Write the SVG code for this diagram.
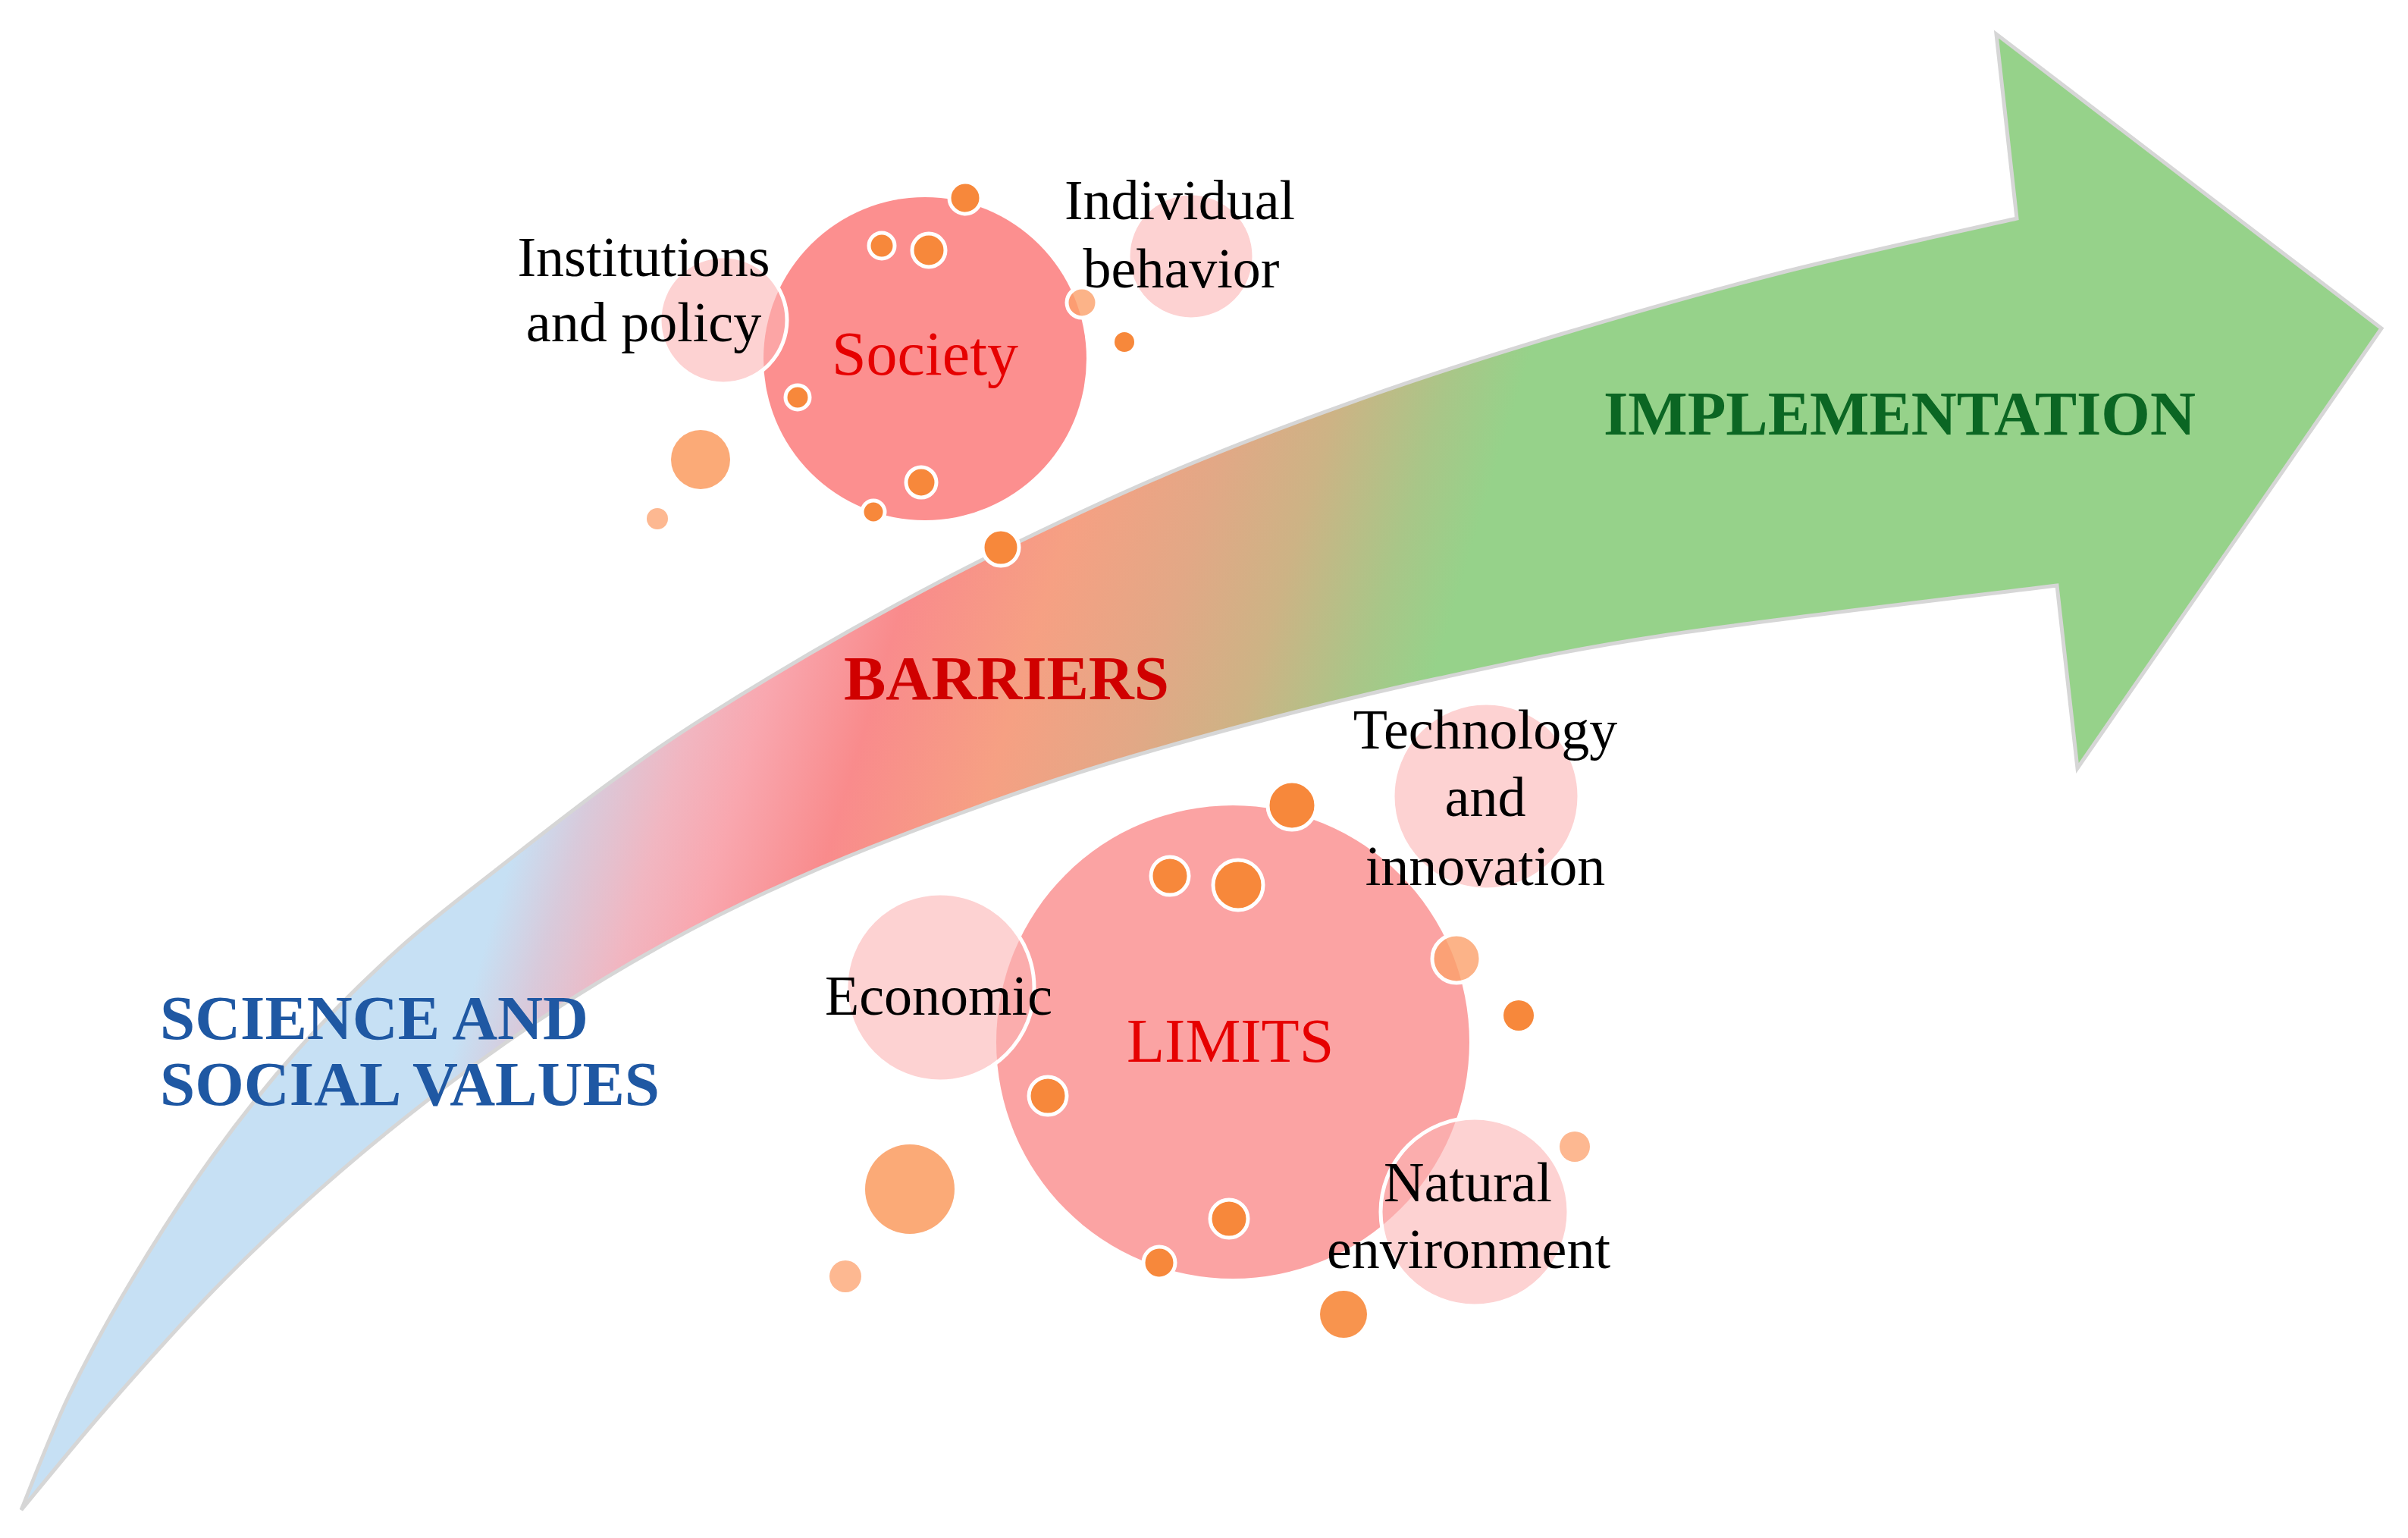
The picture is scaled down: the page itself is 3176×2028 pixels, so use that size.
<svg xmlns="http://www.w3.org/2000/svg" width="3176" height="2028" viewBox="0 0 3176 2028">
<style>
.lbl{font-family:"Liberation Serif","Times New Roman",serif;font-size:74px;fill:#000;text-anchor:middle}
.core{font-family:"Liberation Serif","Times New Roman",serif;font-size:82px;fill:#e60000}
.head{font-family:"Liberation Serif","Times New Roman",serif;font-weight:bold;font-size:83px}
.big1{fill:#fc8f8f}
.big2{fill:#fba3a3}
.sat{fill:#fcb4b4;fill-opacity:0.6;stroke:#fff;stroke-width:5}
.dot{fill:#f7883b;stroke:#fff;stroke-width:5}
.dotn{fill:#f7883b}
.dotl{fill:#fbaa77}
.dotp{fill:#fdb891}
.dots{fill:#fba06a;fill-opacity:0.8;stroke:#fff;stroke-width:5}
</style>
<defs>
<linearGradient id="flow" gradientUnits="userSpaceOnUse" x1="0" y1="0" x2="3000" y2="900">
<stop offset="0" stop-color="#c6e0f4"/>
<stop offset="0.31" stop-color="#c6e0f4"/>
<stop offset="0.334" stop-color="#d8cadb"/>
<stop offset="0.366" stop-color="#f1b6c1"/>
<stop offset="0.393" stop-color="#f9a7af"/>
<stop offset="0.437" stop-color="#f98b8c"/>
<stop offset="0.494" stop-color="#f6a083"/>
<stop offset="0.547" stop-color="#e2a886"/>
<stop offset="0.588" stop-color="#cdb385"/>
<stop offset="0.63" stop-color="#a9c688"/>
<stop offset="0.66" stop-color="#96d28a"/>
<stop offset="1" stop-color="#96d28a"/>
</linearGradient>
</defs>
<rect width="3176" height="2028" fill="#fff"/>
<g id="arrow-flow">
<path d="M 28 1991 C 38.5 1965.8 66.5 1890.8 91 1840 C 115.5 1789.2 143.3 1738.7 175 1686 C 206.7 1633.3 244.7 1574.3 281 1524 C 317.3 1473.7 352.2 1429.5 393 1384 C 433.8 1338.5 480.5 1292 526 1251 C 571.5 1210 619.2 1174.8 666 1138 C 712.8 1101.2 762.8 1062.2 807 1030 C 851.2 997.8 878.8 978 931 945 C 983.2 912 1055.2 868.5 1120 832 C 1184.8 795.5 1246.3 762.2 1320 726 C 1393.7 689.8 1480 649.3 1562 615 C 1644 580.7 1728.8 549.2 1812 520 C 1895.2 490.8 1970.5 467 2061 440 C 2151.5 413 2255.2 383.3 2355 358 C 2454.8 332.7 2609.2 299.7 2660 288 L 2633 45 L 3141 433 L 2740 1013 L 2713 772 C 2627.5 782.8 2336.3 816.5 2200 837 C 2063.7 857.5 1987.3 875.3 1895 895 C 1802.7 914.7 1729 933 1646 955 C 1563 977 1479.8 1000 1397 1027 C 1314.2 1054 1218.2 1089.8 1149 1117 C 1079.8 1144.2 1033.2 1165.5 982 1190 C 930.8 1214.5 888.7 1237.2 842 1264 C 795.3 1290.8 748.8 1319.5 702 1351 C 655.2 1382.5 607.8 1416.7 561 1453 C 514.2 1489.3 467.7 1527.5 421 1569 C 374.3 1610.5 327.8 1654 281 1702 C 234.2 1750 182.2 1808.8 140 1857 C 97.8 1905.2 46.7 1968.7 28 1991 Z" fill="url(#flow)" stroke="#d6d6d6" stroke-width="5" stroke-linejoin="miter"/>
</g>
<g id="stage-labels">
<text class="head" x="2115" y="573" fill="#0b6623">IMPLEMENTATION</text>
<text class="head" x="1113" y="922" fill="#d00000">BARRIERS</text>
<text class="head" x="211" y="1370" fill="#1f58a3">SCIENCE AND</text>
<text class="head" x="211" y="1457" fill="#1f58a3">SOCIAL VALUES</text>
</g>
<g id="society">
<circle class="big1" cx="1220" cy="473" r="213"/>
<g id="institutions-and-policy">
<circle class="sat" cx="954" cy="422" r="84"/>
</g>
<g id="individual-behavior">
<circle class="sat" cx="1571" cy="338" r="83"/>
</g>
<circle class="dot" cx="1273" cy="261" r="21"/>
<circle class="dot" cx="1163" cy="324" r="17"/>
<circle class="dot" cx="1225" cy="330" r="22"/>
<circle class="dots" cx="1427" cy="399" r="20"/>
<circle class="dotn" cx="1483" cy="451" r="13"/>
<circle class="dot" cx="1052" cy="524" r="16"/>
<circle class="dotl" cx="924" cy="606" r="39"/>
<circle class="dotp" cx="867" cy="684" r="14"/>
<circle class="dot" cx="1215" cy="636" r="20"/>
<circle class="dot" cx="1152" cy="675" r="15"/>
<circle class="dot" cx="1320" cy="722" r="24"/>
<text class="core" x="1097" y="494">Society</text>
<text class="lbl" x="849" y="364">Institutions</text>
<text class="lbl" x="849" y="450">and policy</text>
<text class="lbl" x="1556" y="289">Individual</text>
<text class="lbl" x="1558" y="379">behavior</text>
</g>
<g id="limits">
<circle class="big2" cx="1626" cy="1374" r="312"/>
<g id="economic">
<circle class="sat" cx="1240" cy="1302" r="124"/>
</g>
<g id="technology-and-innovation">
<circle class="sat" cx="1960" cy="1050" r="123"/>
</g>
<g id="natural-environment">
<circle class="sat" cx="1945" cy="1598" r="124"/>
</g>
<circle class="dot" cx="1704" cy="1062" r="32"/>
<circle class="dot" cx="1543" cy="1155" r="25"/>
<circle class="dot" cx="1633" cy="1167" r="33"/>
<circle class="dots" cx="1921" cy="1264" r="32"/>
<circle class="dotn" cx="2003" cy="1339" r="20"/>
<circle class="dot" cx="1382" cy="1445" r="25"/>
<circle class="dotl" cx="1200" cy="1568" r="59"/>
<circle class="dotp" cx="1115" cy="1683" r="21"/>
<circle class="dot" cx="1621" cy="1607" r="25"/>
<circle class="dot" cx="1529" cy="1665" r="21"/>
<circle class="dotn" cx="1772" cy="1733" r="31" fill-opacity="0.9"/>
<circle class="dotp" cx="2077" cy="1512" r="20"/>
<text class="core" x="1486" y="1400">LIMITS</text>
<text class="lbl" x="1238" y="1338">Economic</text>
<text class="lbl" x="1959" y="987">Technology</text>
<text class="lbl" x="1959" y="1076">and</text>
<text class="lbl" x="1959" y="1167">innovation</text>
<text class="lbl" x="1936" y="1584">Natural</text>
<text class="lbl" x="1937" y="1672">environment</text>
</g>
</svg>
